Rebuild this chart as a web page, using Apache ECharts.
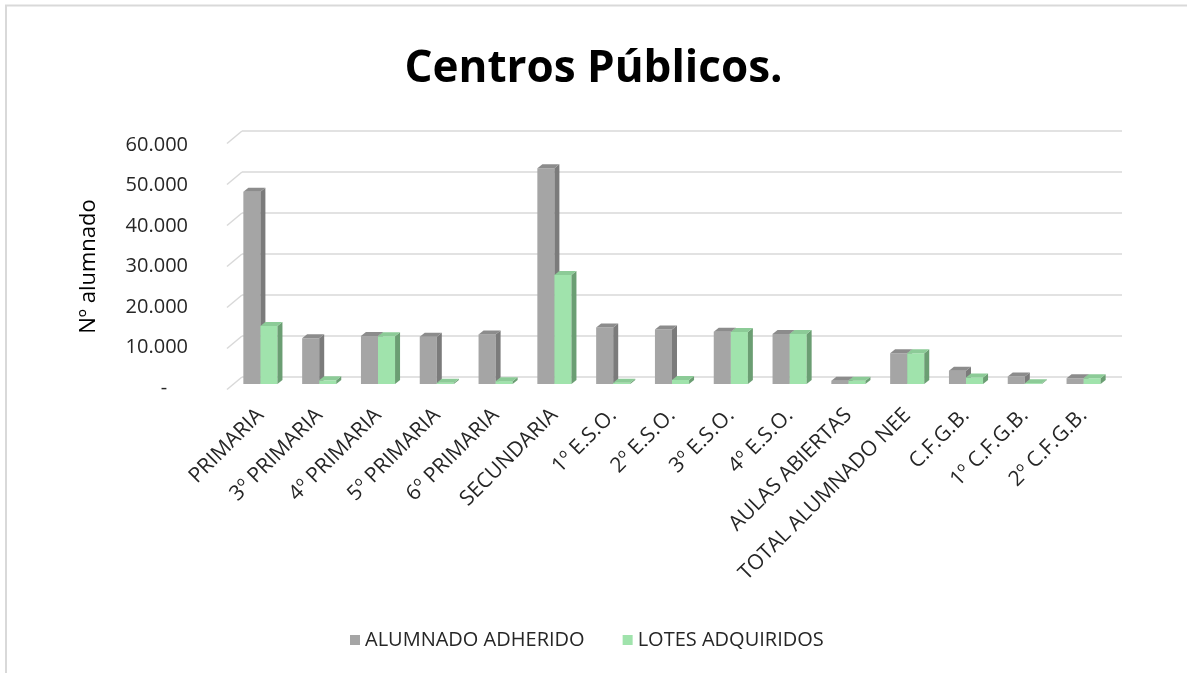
<html>
<head>
<meta charset="UTF-8">
<script src="https://cdn.jsdelivr.net/npm/echarts@6/dist/echarts.min.js"></script>
</head>
<body style="margin:0;background:#fff;">
<div id="chart" style="width:1187px;height:673px;"></div>
<script type="text/javascript">

var categories = ['PRIMARIA', '3º PRIMARIA', '4º PRIMARIA', '5º PRIMARIA', '6º PRIMARIA', 'SECUNDARIA',
    '1º E.S.O.', '2º E.S.O.', '3º E.S.O.', '4º E.S.O.', 'AULAS ABIERTAS', 'TOTAL ALUMNADO NEE',
    'C.F.G.B.', '1º C.F.G.B.', '2º C.F.G.B.'];
var alumnado = [46900, 11150, 11700, 11550, 12100, 52600, 13800, 13300, 12750, 12200, 800, 7500, 3250, 1800, 1400];
var lotes = [14150, 900, 11650, 300, 700, 26600, 300, 1000, 12700, 12200, 800, 7500, 1600, 200, 1400];
var yTicks = [0, 10000, 20000, 30000, 40000, 50000, 60000];

var FONT = 'Open Sans';
var chart = echarts.init(document.getElementById('chart'));

// caras del prisma: frente, lateral, tapa
var grayFaces = ['#a5a5a5', '#7b7b7b', '#8c8c8c'];
var greenFaces = ['#a0e3ac', '#6b9e73', '#8ccb97'];
var DX = 5, DY = -4;

function barItem(side, faces) {
    return function (params, api) {
        var i = api.value(0), v = api.value(1);
        var top = api.coord([i, v]);
        var base = api.coord([i, 0]);
        var w = api.size([1, 0])[0] * 0.29;
        var x0 = side === 0 ? top[0] - w : top[0];
        var x1 = x0 + w;
        var yt = top[1], yb = base[1];
        return {
            type: 'group',
            children: [
                {type: 'rect', shape: {x: x0, y: yt, width: w, height: yb - yt}, style: {fill: faces[0]}},
                {type: 'polygon', shape: {points: [[x1, yt], [x1 + DX, yt + DY], [x1 + DX, yb + DY], [x1, yb]]}, style: {fill: faces[1]}},
                {type: 'polygon', shape: {points: [[x0, yt], [x0 + DX, yt + DY], [x1 + DX, yt + DY], [x1, yt]]}, style: {fill: faces[2]}}
            ]
        };
    };
}

// diagonales del suelo/pared a la izquierda
function slantItem(params, api) {
    var p = api.coord([0, api.value(0)]);
    return {
        type: 'line',
        shape: {x1: p[0], y1: p[1], x2: p[0] - 15, y2: p[1] + 12.5},
        style: {stroke: '#d9d9d9', lineWidth: 1.5}
    };
}

function fmt(v) {
    if (v === 0) return '-    ';
    return String(v / 1000) + '.000';
}

var option = {
    backgroundColor: '#fff',
    animation: false,
    title: {
        text: 'Centros Públicos.',
        left: 'center',
        top: 42,
        textStyle: {fontFamily: FONT, fontSize: 44, fontWeight: 'bold', color: '#000'}
    },
    legend: {
        data: ['ALUMNADO ADHERIDO', 'LOTES ADQUIRIDOS'],
        top: 625,
        left: 345,
        icon: 'rect',
        itemWidth: 10,
        itemHeight: 10,
        itemGap: 38,
        textStyle: {fontFamily: FONT, fontSize: 20, color: '#262626'}
    },
    grid: [
        {left: 242, width: 880, top: 131, height: 246},  // pared del fondo
        {left: 231, width: 882, top: 138, height: 246},  // barras
        {left: 196, width: 880, top: 145, height: 243}   // etiquetas eje Y
    ],
    xAxis: [
        {gridIndex: 0, type: 'value', min: 0, max: 1, show: false},
        {
            gridIndex: 1, type: 'category', data: categories,
            axisLine: {show: false}, axisTick: {show: false},
            axisLabel: {interval: 0, rotate: 45, margin: 28, fontFamily: FONT, fontSize: 21, color: '#262626'}
        },
        {gridIndex: 2, type: 'value', show: false}
    ],
    yAxis: [
        {
            gridIndex: 0, type: 'value', min: 0, max: 60000, interval: 10000,
            axisLine: {show: false}, axisTick: {show: false}, axisLabel: {show: false},
            splitLine: {lineStyle: {color: '#d9d9d9', width: 1.5}}
        },
        {gridIndex: 1, type: 'value', min: 0, max: 60000, show: false},
        {
            gridIndex: 2, type: 'value', min: 0, max: 60000, interval: 10000,
            axisLine: {show: false}, axisTick: {show: false}, splitLine: {show: false},
            axisLabel: {formatter: fmt, margin: 8, fontFamily: FONT, fontSize: 20, color: '#262626'},
            name: 'Nº alumnado', nameLocation: 'middle', nameRotate: 90, nameGap: 96,
            nameTextStyle: {fontFamily: FONT, fontSize: 22, fontWeight: 500, color: '#000'}
        }
    ],
    graphic: [
        {type: 'line', shape: {x1: 5, y1: 5.5, x2: 1187, y2: 5.5}, style: {stroke: '#d9d9d9', lineWidth: 2}},
        {type: 'line', shape: {x1: 6, y1: 5, x2: 6, y2: 673}, style: {stroke: '#d9d9d9', lineWidth: 2}}
    ],
    series: [
        {
            type: 'custom', name: 'slants', xAxisIndex: 0, yAxisIndex: 0,
            data: yTicks.map(function (t) { return [t]; }),
            encode: {y: 0},
            renderItem: slantItem, silent: true
        },
        {
            type: 'custom', name: 'ALUMNADO ADHERIDO', xAxisIndex: 1, yAxisIndex: 1,
            itemStyle: {color: grayFaces[0]},
            data: alumnado.map(function (v, i) { return [i, v]; }),
            encode: {x: 0, y: 1},
            renderItem: barItem(0, grayFaces)
        },
        {
            type: 'custom', name: 'LOTES ADQUIRIDOS', xAxisIndex: 1, yAxisIndex: 1,
            itemStyle: {color: greenFaces[0]},
            data: lotes.map(function (v, i) { return [i, v]; }),
            encode: {x: 0, y: 1},
            renderItem: barItem(1, greenFaces)
        }
    ]
};

chart.setOption(option);
</script>
</body>
</html>
